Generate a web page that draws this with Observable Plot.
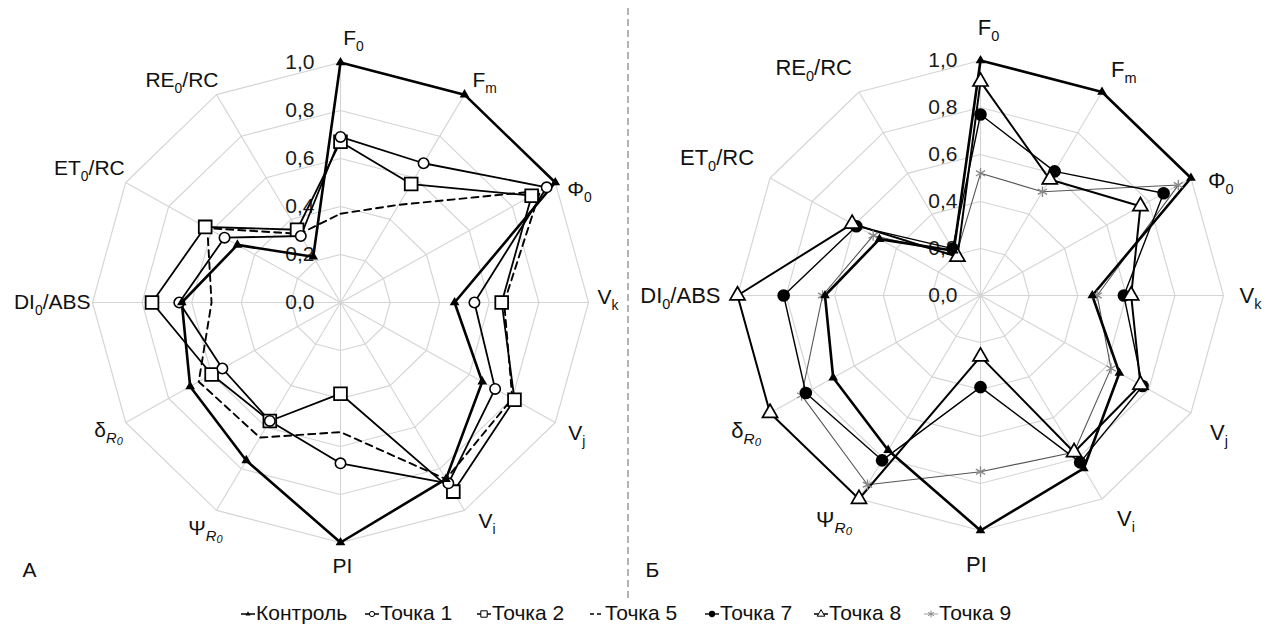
<!DOCTYPE html>
<html><head><meta charset="utf-8">
<script src="https://cdn.jsdelivr.net/npm/d3@7"></script>
<script src="https://cdn.jsdelivr.net/npm/@observablehq/plot@0.6"></script>
<style>
html,body{margin:0;padding:0;background:#fff;}
#root{position:relative;width:1280px;height:637px;overflow:hidden;font-family:"Liberation Sans",Arial,sans-serif;}
.panel{position:absolute;top:0;}
.panel svg{overflow:visible;}
#legend{position:absolute;top:601px;left:0;width:1280px;height:24px;font-size:21px;color:#111;white-space:nowrap;line-height:24px;}
.item{position:absolute;top:0;display:flex;align-items:center;gap:1px;}
#sep{position:absolute;left:626px;top:8px;}
</style></head><body><div id="root"></div>
<script>
// ---------- data ----------
const axisKeys = ["F_0","F_m","Φ_0","V_k","V_j","V_i","PI","Ψ_{R0}","δ_{R0}","DI_0/ABS","ET_0/RC","RE_0/RC"];
const tickValues = [0, 0.2, 0.4, 0.6, 0.8, 1.0];
const tickLabels = ["0,0","0,2","0,4","0,6","0,8","1,0"];
const seriesNames = ["Контроль","Точка 1","Точка 2","Точка 5","Точка 7","Точка 8","Точка 9"];
const control = [1.00, 1.00, 1.00, 0.46, 0.66, 0.85, 1.00, 0.76, 0.70, 0.64, 0.48, 0.22];
const point1  = [0.69, 0.67, 0.96, 0.54, 0.72, 0.87, 0.67, 0.57, 0.55, 0.65, 0.54, 0.32];
const point2  = [0.67, 0.57, 0.89, 0.65, 0.81, 0.91, 0.38, 0.57, 0.60, 0.76, 0.63, 0.35];
const point5  = [0.37, 0.47, 0.93, 0.66, 0.80, 0.85, 0.54, 0.65, 0.66, 0.52, 0.62, 0.33];
const point7  = [0.77, 0.61, 0.87, 0.59, 0.77, 0.82, 0.39, 0.81, 0.83, 0.81, 0.59, 0.23];
const point8  = [0.91, 0.57, 0.76, 0.62, 0.76, 0.77, 0.26, 1.00, 1.00, 1.00, 0.61, 0.19];
const point9  = [0.52, 0.51, 0.94, 0.48, 0.62, 0.77, 0.75, 0.93, 0.85, 0.65, 0.51, 0.20];
const panelLetters = ["А","Б"];
const panelSeries = [["Точка 5","Точка 2","Точка 1","Контроль"], ["Точка 9","Точка 7","Точка 8","Контроль"]];

const seriesValues = {"Контроль":control,"Точка 1":point1,"Точка 2":point2,"Точка 5":point5,"Точка 7":point7,"Точка 8":point8,"Точка 9":point9};

// ---------- styles / layout ----------
const styles = {
  "Контроль": {stroke:"#000", width:2.6, symbol:"triangle", r:3.6, fill:"#000", mstroke:"none", msw:0},
  "Точка 1":  {stroke:"#000", width:1.8, symbol:"circle", r:5.2, fill:"#fff", mstroke:"#000", msw:1.6},
  "Точка 2":  {stroke:"#000", width:1.8, symbol:"square", r:7.2, fill:"#fff", mstroke:"#000", msw:1.8},
  "Точка 5":  {stroke:"#000", width:1.9, dash:"7,5", symbol:null},
  "Точка 7":  {stroke:"#000", width:1.4, symbol:"circle", r:6.3, fill:"#000", mstroke:"none", msw:0},
  "Точка 8":  {stroke:"#000", width:2.0, symbol:"triangle", r:5.6, fill:"#fff", mstroke:"#000", msw:1.7},
  "Точка 9":  {stroke:"#555", width:1.1, symbol:"asterisk", r:5, fill:"none", mstroke:"#888", msw:1.3}
};
const legendX = [241, 365, 477, 590, 705, 814, 924];

const layouts = [
  {left:0, cx:340, cy:302, rx:248, ry:240, labelSize:21, tickSize:21, tickDx:-26, letterX:22,
   offsets:[["middle",13,-24],["start",8,-14],["start",12,7],["start",9,-5],["start",13,11],["start",14,11],
            ["middle",2,24],["end",6,18],["end",-3,8],["end",-2,0],["end",-1,-14],["end",2,-14]]},
  {left:640, cx:340, cy:295, rx:243, ry:235, labelSize:22, tickSize:21, tickDx:-23, letterX:5,
   offsets:[["middle",8,-33],["start",9,-22],["start",17,3],["start",16,0],["start",19,20],["start",15,20],
            ["middle",-4,34],["end",-7,21],["end",-9,18],["end",-17,0],["end",-16,-20],["end",-7,-24]]}
];

const ang = i => i * 2 * Math.PI / axisKeys.length;
const sx = i => Math.sin(ang(i));
const cy_ = i => Math.cos(ang(i));

function radarRows(name) {
  return seriesValues[name].map((v, i) => ({series:name, axis:axisKeys[i], v, x:v*sx(i), y:v*cy_(i)}));
}

function subscriptify(svg, fs) {
  const NS = "http://www.w3.org/2000/svg";
  svg.querySelectorAll("text").forEach(t => {
    const raw = t.textContent;
    if (!raw.includes("_")) return;
    const size = parseFloat(t.getAttribute("font-size")) || fs;
    const parts = raw.split(/_(\{[^}]*\}|.)/);
    t.textContent = "";
    let shift = 0;
    const mk = (txt, attrs) => { const s = document.createElementNS(NS, "tspan"); s.textContent = txt; for (const k in attrs) s.setAttribute(k, attrs[k]); t.appendChild(s); return s; };
    parts.forEach((p, k) => {
      if (k % 2 === 0) {
        if (!p) return;
        mk(p, shift ? {dy: -shift} : {});
        shift = 0;
      } else {
        const s = p.replace(/[{}]/g, "");
        if (s.length === 1) {
          mk(s, {"font-size": size*0.66, dy: size*0.28});
          shift = size*0.28;
        } else {
          mk(s[0], {"font-size": size*0.7, dy: size*0.26, "font-style":"italic"});
          mk(s.slice(1), {"font-size": size*0.52, dy: size*0.12, "font-style":"italic"});
          shift = size*0.38;
        }
      }
    });
  });
}

function drawPanel(p) {
  const L = layouts[p];
  const rings = tickValues.filter(v => v > 0).flatMap(level => axisKeys.map((k, i) => ({level, x:level*sx(i), y:level*cy_(i)})));
  const spokes = axisKeys.map((k, i) => ({i}));
  const names = panelSeries[p];
  const marks = [
    Plot.line(rings, {x:"x", y:"y", z:"level", curve:"linear-closed", stroke:"#d4d4d4", strokeWidth:1.1}),
    Plot.link(spokes, {x1:() => 0, y1:() => 0, x2:d => sx(d.i), y2:d => cy_(d.i), stroke:"#d4d4d4", strokeWidth:1.1}),
    Plot.text(tickValues, {x:() => 0, y:d => d, text:(d, i) => tickLabels[i], textAnchor:"end", dx:L.tickDx, fontSize:L.tickSize, fill:"#1a1a1a"})
  ];
  for (const n of names) {
    const st = styles[n];
    marks.push(Plot.line(radarRows(n), {x:"x", y:"y", curve:"linear-closed", stroke:st.stroke, strokeWidth:st.width, strokeDasharray:st.dash || null}));
  }
  for (const n of names) {
    const st = styles[n];
    if (!st.symbol) continue;
    marks.push(Plot.dot(radarRows(n), {x:"x", y:"y", symbol:st.symbol, r:st.r, fill:st.fill, stroke:st.mstroke, strokeWidth:st.msw}));
  }
  axisKeys.forEach((k, i) => {
    const [anchor, dx, dy] = L.offsets[i];
    marks.push(Plot.text([k], {x:() => sx(i), y:() => cy_(i), text:d => d, textAnchor:anchor, dx, dy, fontSize:L.labelSize, fill:"#111"}));
  });
  marks.push(Plot.text([panelLetters[p]], {frameAnchor:"top-left", dx:L.letterX, dy:562, textAnchor:"start", fontSize:21, fill:"#111"}));

  const svg = Plot.plot({
    width:640, height:637, margin:0,
    style:{background:"transparent", fontFamily:"'Liberation Sans', Arial, sans-serif", overflow:"visible"},
    x:{domain:[-1, 1], range:[L.cx - L.rx, L.cx + L.rx], axis:null},
    y:{domain:[-1, 1], range:[L.cy + L.ry, L.cy - L.ry], axis:null},
    marks
  });
  subscriptify(svg, L.labelSize);
  const div = document.createElement("div");
  div.className = "panel";
  div.style.left = L.left + "px";
  div.appendChild(svg);
  return div;
}

const root = document.getElementById("root");
root.appendChild(drawPanel(0));
root.appendChild(drawPanel(1));

// separator
const NS = "http://www.w3.org/2000/svg";
const sep = document.createElementNS(NS, "svg");
sep.setAttribute("id", "sep"); sep.setAttribute("width", 4); sep.setAttribute("height", 591);
const sl = document.createElementNS(NS, "line");
sl.setAttribute("x1", 2); sl.setAttribute("x2", 2); sl.setAttribute("y1", 0); sl.setAttribute("y2", 591);
sl.setAttribute("stroke", "#9a9a9a"); sl.setAttribute("stroke-width", 1.5); sl.setAttribute("stroke-dasharray", "7,4");
sep.appendChild(sl);
root.appendChild(sep);

// legend
const legend = document.createElement("div");
legend.id = "legend";
const symMap = {triangle:d3.symbolTriangle, circle:d3.symbolCircle, square:d3.symbolSquare, asterisk:d3.symbolAsterisk};
seriesNames.forEach((n, k) => {
  const st = styles[n];
  const item = document.createElement("div"); item.className = "item";
  item.style.left = legendX[k] + "px";
  const s = document.createElementNS(NS, "svg"); s.setAttribute("width", 14); s.setAttribute("height", 24);
  const ln = document.createElementNS(NS, "line");
  ln.setAttribute("x1", 0); ln.setAttribute("x2", 14); ln.setAttribute("y1", 13); ln.setAttribute("y2", 13);
  ln.setAttribute("stroke", st.stroke); ln.setAttribute("stroke-width", Math.min(st.width, 1.5));
  if (st.dash) ln.setAttribute("stroke-dasharray", "4,3");
  if (n === "Точка 9") ln.setAttribute("stroke", "#aaa");
  s.appendChild(ln);
  if (st.symbol) {
    const pth = document.createElementNS(NS, "path");
    const rr = st.r * 0.5;
    pth.setAttribute("d", d3.symbol(symMap[st.symbol], Math.PI * rr * rr * (st.symbol === "asterisk" ? 1.6 : 1))());
    pth.setAttribute("transform", "translate(7,13)");
    pth.setAttribute("fill", st.fill === "none" ? "none" : st.fill);
    pth.setAttribute("stroke", st.mstroke === "none" ? "none" : st.mstroke);
    pth.setAttribute("stroke-width", st.msw ? 1 : 0);
    s.appendChild(pth);
  }
  item.appendChild(s);
  const tx = document.createElement("span"); tx.textContent = n;
  item.appendChild(tx);
  legend.appendChild(item);
});
root.appendChild(legend);
</script></body></html>
